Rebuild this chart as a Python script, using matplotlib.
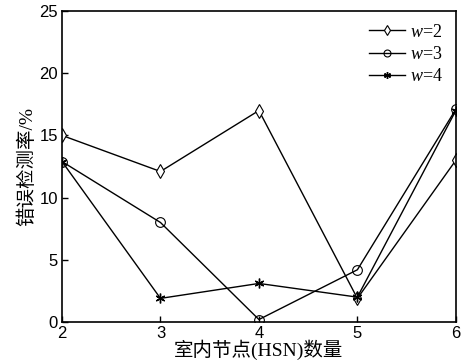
import matplotlib
matplotlib.use("Agg")
import matplotlib.pyplot as plt
from matplotlib.lines import Line2D

# data
nodes = [2, 3, 4, 5, 6]
w2 = [15.0, 12.1, 17.0, 1.9, 13.0]
w3 = [12.9, 8.0, 0.2, 4.2, 17.1]
w4 = [12.9, 1.9, 3.1, 2.0, 17.0]
labels = ["2", "3", "4"]

plt.rcParams['font.family'] = ['Liberation Sans', 'Noto Sans CJK SC']
plt.rcParams['mathtext.fontset'] = 'custom'
plt.rcParams['mathtext.it'] = 'Liberation Serif:italic'
plt.rcParams['mathtext.rm'] = 'Liberation Serif'

fig = plt.figure(figsize=(4.68, 3.61), dpi=100)
ax = fig.add_axes([0.1325, 0.108, 0.8415, 0.8615])

ax.plot(nodes, w2, color='black', lw=1, marker='d', ms=7, mfc='white', mec='black', mew=0.8)
ax.plot(nodes, w3, color='black', lw=1, marker='o', ms=7, mfc='none', mec='black', mew=0.8)
ax.plot(nodes, w4, color='black', lw=1, marker=(6, 2, 0), ms=7, mec='black', mew=1.0)

ax.set_xlim(2, 6)
ax.set_ylim(0, 25)
ax.set_xticks(nodes)
ax.set_yticks([0, 5, 10, 15, 20, 25])
ax.tick_params(direction='in', labelsize=12, length=4, width=1, pad=3)
for s in ax.spines.values():
    s.set_linewidth(1.2)

cjk = ['Liberation Serif', 'Noto Sans CJK SC']
ax.set_ylabel('错误检测率/%', family=cjk, fontsize=14, labelpad=2)
ax.set_xlabel('室内节点(HSN)数量', family=cjk, fontsize=14, labelpad=-1)

handles = [
    Line2D([], [], color='black', lw=1, marker='d', ms=5, mfc='white', mec='black', mew=0.8),
    Line2D([], [], color='black', lw=1, marker='o', ms=5, mfc='none', mec='black', mew=0.8),
    Line2D([], [], color='black', lw=1, marker=(6, 2, 0), ms=5, mec='black', mew=1.0),
]
texts = [r'$w$=' + l for l in labels]
ax.legend(handles, texts, loc='upper right', frameon=False, handlelength=2.0,
          handletextpad=0.3, labelspacing=0.3, borderaxespad=0.3,
          prop={'family': 'Liberation Serif', 'size': 13})

fig.savefig('out.png', dpi=100)
